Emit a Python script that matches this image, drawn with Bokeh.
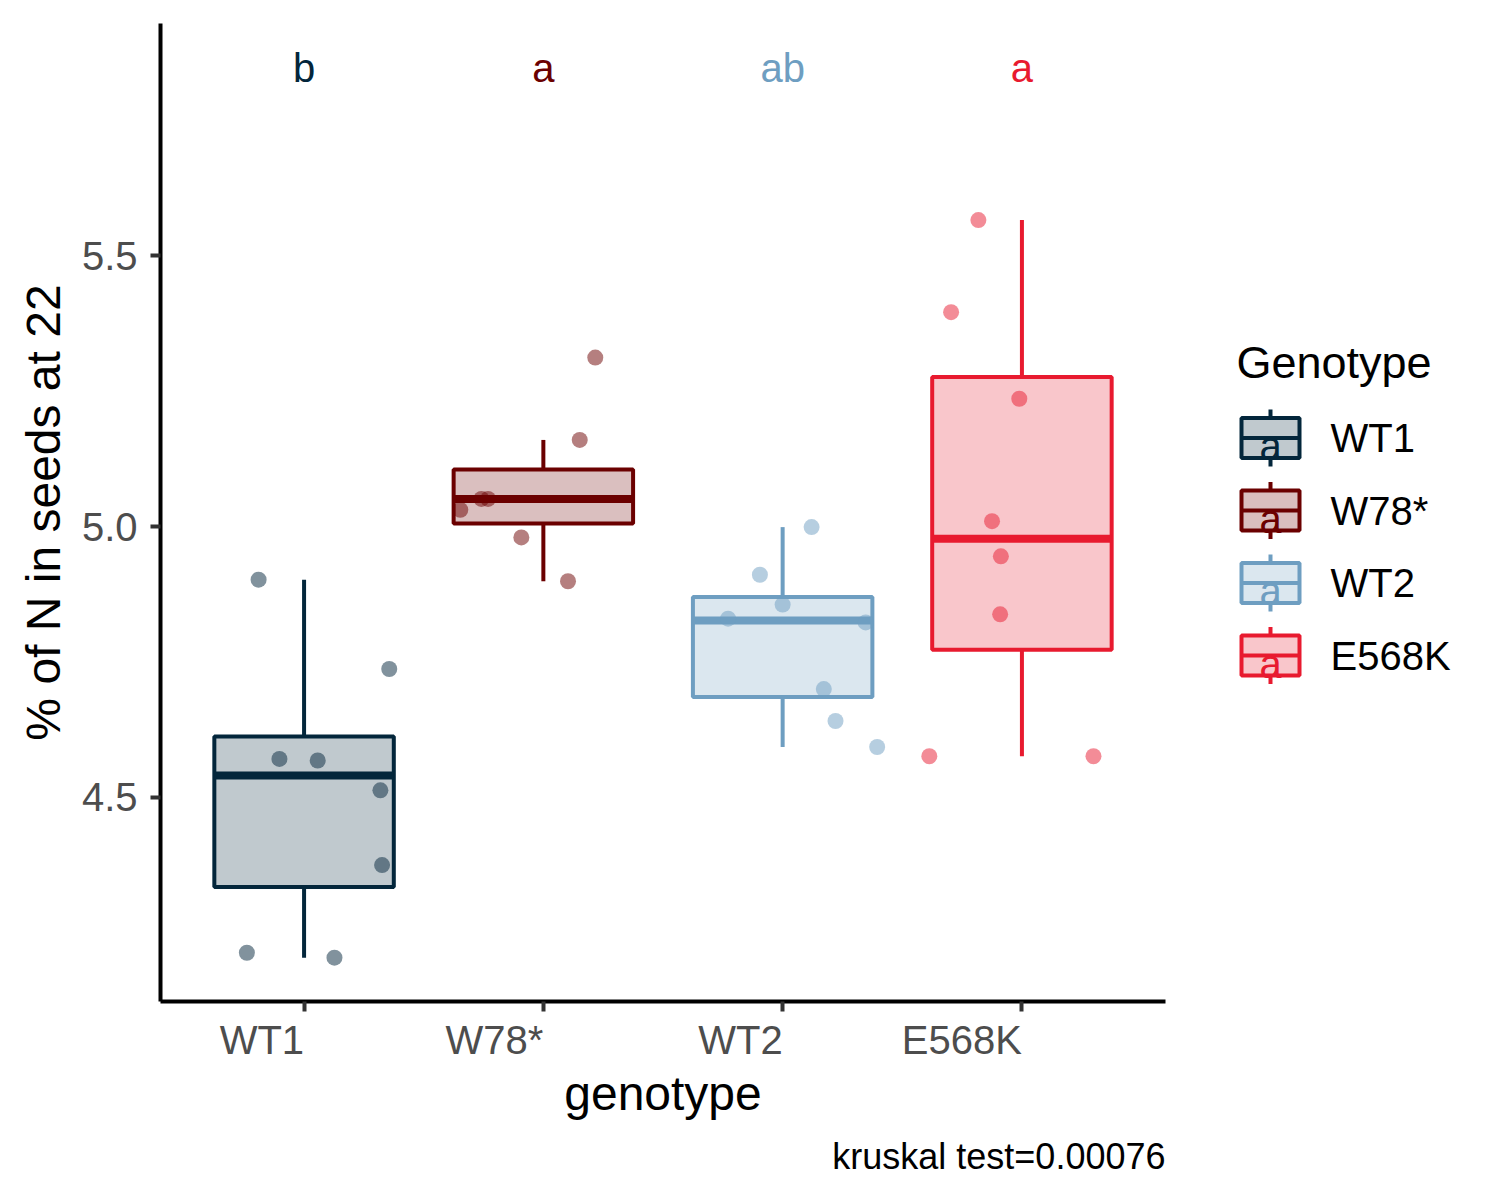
import numpy as np
from bokeh.plotting import figure
from bokeh.models import Range1d, FixedTicker, ColumnDataSource, Title, PrintfTickFormatter
from bokeh.layouts import row
from bokeh.embed import file_html
from bokeh.resources import INLINE
from bokeh.core.properties import value

# ---------------- data ----------------
genotypes = ["WT1", "W78*", "WT2", "E568K"]
colors = ["#03263B", "#6B0000", "#6E9EC1", "#E81A2F"]
letters = ["b", "a", "ab", "a"]
letter_y = 5.846

wt1_vals = [4.902, 4.737, 4.571, 4.568, 4.513, 4.375, 4.213, 4.204]
wt1_jit = [-0.19, 0.356, -0.103, 0.057, 0.319, 0.326, -0.239, 0.127]
w78_vals = [5.312, 5.160, 5.051, 5.051, 5.031, 4.980, 4.899]
w78_jit = [0.217, 0.152, -0.259, -0.231, -0.347, -0.092, 0.103]
wt2_vals = [4.999, 4.911, 4.856, 4.830, 4.823, 4.700, 4.641, 4.593]
wt2_jit = [0.121, -0.095, 0.0, -0.228, 0.347, 0.172, 0.221, 0.395]
e568k_vals = [5.566, 5.396, 5.236, 5.010, 4.945, 4.838, 4.576, 4.576]
e568k_jit = [-0.182, -0.296, -0.011, -0.125, -0.088, -0.091, -0.387, 0.299]

caption = "kruskal test=0.00076"
x_title = "genotype"
y_title = "% of N in seeds at 22"
legend_title = "Genotype"
y_ticks = [4.5, 5.0, 5.5]

groups_vals = [wt1_vals, w78_vals, wt2_vals, e568k_vals]
groups_jit = [wt1_jit, w78_jit, wt2_jit, e568k_jit]

FONT = "Liberation Sans"

FRAME_TOP, FRAME_H = 23, 978
FRAME_LEFT, FRAME_W = 160, 1005
BOTTOM = 183

# ---------------- main figure ----------------
p = figure(frame_width=FRAME_W, frame_height=FRAME_H,
           x_range=Range1d(0.4, 4.6), y_range=Range1d(4.123, 5.929),
           output_backend="svg", toolbar_location=None,
           min_border_left=FRAME_LEFT, min_border_right=35,
           min_border_top=FRAME_TOP, min_border_bottom=BOTTOM)
p.grid.visible = False
p.outline_line_color = None
p.background_fill_color = "white"
p.border_fill_color = "white"

# box statistics (ggplot style)
pos = np.arange(1, len(genotypes) + 1, dtype=float)
q1s, meds, q3s, lows, highs = [], [], [], [], []
for vals in groups_vals:
    a = np.array(vals)
    q1, med, q3 = np.percentile(a, [25, 50, 75])
    iqr = q3 - q1
    lo = a[a >= q1 - 1.5 * iqr].min()
    hi = a[a <= q3 + 1.5 * iqr].max()
    q1s.append(q1); meds.append(med); q3s.append(q3); lows.append(lo); highs.append(hi)

half_w = 0.375
box_src = ColumnDataSource(dict(
    left=pos - half_w, right=pos + half_w, bottom=q1s, top=q3s,
    x=pos, med=meds, lo=lows, hi=highs, color=colors,
))

p.segment(x0="x", y0="top", x1="x", y1="hi", source=box_src, line_color="color", line_width=4)
p.segment(x0="x", y0="bottom", x1="x", y1="lo", source=box_src, line_color="color", line_width=4)
p.quad(left="left", right="right", bottom="bottom", top="top", source=box_src,
       fill_color="color", fill_alpha=0.25, line_color="color", line_width=4)
p.segment(x0="left", y0="med", x1="right", y1="med", source=box_src,
          line_color="color", line_width=8)

# jittered points
px, py, pc = [], [], []
for i, (vals, jit) in enumerate(zip(groups_vals, groups_jit)):
    for v, j in zip(vals, jit):
        px.append(pos[i] + j)
        py.append(v)
        pc.append(colors[i])
p.scatter(x=px, y=py, size=16, fill_color=pc, fill_alpha=0.5, line_color=None)

# significance letters
p.text(x=pos, y=[letter_y] * len(pos), text=letters, text_color=colors,
       text_font=value(FONT), text_font_size="40px",
       text_align="center", text_baseline="alphabetic")

# axes
p.xaxis.ticker = FixedTicker(ticks=list(pos))
p.xaxis.major_label_overrides = {int(k): g for k, g in zip(pos, genotypes)}
p.xaxis.major_label_orientation = 0.0
p.yaxis.ticker = FixedTicker(ticks=y_ticks)
p.yaxis.formatter = PrintfTickFormatter(format="%.1f")
p.xaxis.axis_label = x_title
p.yaxis.axis_label = y_title

for ax in (p.xaxis[0], p.yaxis[0]):
    ax.axis_line_width = 4
    ax.axis_line_color = "black"
    ax.major_tick_line_width = 4
    ax.major_tick_line_color = "#333333"
    ax.major_tick_out = 10
    ax.major_tick_in = 0
    ax.minor_tick_line_color = None
    ax.major_label_text_font = FONT
    ax.major_label_text_font_size = "40px"
    ax.major_label_text_color = "#4D4D4D"
    ax.axis_label_text_font = FONT
    ax.axis_label_text_font_size = "48px"
    ax.axis_label_text_font_style = "normal"
    ax.axis_label_text_color = "black"

p.xaxis.major_label_standoff = 28
p.xaxis.axis_label_standoff = -20
p.yaxis.major_label_standoff = 13
p.yaxis.axis_label_standoff = 9

p.add_layout(Title(text=caption, align="right", text_font=FONT, text_font_size="36px",
                   text_font_style="normal", text_color="black", standoff=23), "below")

# ---------------- legend figure (coordinates in page pixels) ----------------
LEG_W = 284
leg = figure(frame_width=LEG_W, frame_height=FRAME_H,
             x_range=Range1d(1200, 1200 + LEG_W),
             y_range=Range1d(FRAME_TOP + FRAME_H, FRAME_TOP),
             output_backend="svg", toolbar_location=None,
             min_border_left=0, min_border_right=0,
             min_border_top=FRAME_TOP, min_border_bottom=BOTTOM,
             x_axis_location=None, y_axis_location=None)
leg.grid.visible = False
leg.outline_line_color = None
leg.background_fill_color = "white"
leg.border_fill_color = "white"

key_x = 1270
key_cy = np.array([437.5 + 72.5 * i for i in range(len(genotypes))])
kw, kh, wh = 29, 20, 28.5
n = len(genotypes)
leg_src = ColumnDataSource(dict(
    x=[key_x] * n, cy=key_cy, top=key_cy - kh, bottom=key_cy + kh,
    wt=key_cy - wh, wb=key_cy + wh, left=[key_x - kw] * n,
    right=[key_x + kw] * n, color=colors, label=genotypes,
    ay=key_cy + 8, lx=[1330] * n, a=["a"] * n,
))
leg.segment(x0="x", y0="wt", x1="x", y1="wb", source=leg_src, line_color="color", line_width=4)
leg.quad(left="left", right="right", top="top", bottom="bottom", source=leg_src,
         fill_color="white", line_color=None)
leg.quad(left="left", right="right", top="top", bottom="bottom", source=leg_src,
         fill_color="color", fill_alpha=0.25, line_color="color", line_width=4)
leg.segment(x0="left", y0="cy", x1="right", y1="cy", source=leg_src, line_color="color", line_width=4)
leg.text(x="x", y="ay", text="a", source=leg_src, text_color="color",
         text_font=value(FONT), text_font_size="40px", text_align="center",
         text_baseline="alphabetic")
leg.text(x="lx", y="cy", text="label", source=leg_src, text_color="black",
         text_font=value(FONT), text_font_size="40px", text_align="left",
         text_baseline="middle")
leg.text(x=[1236], y=[362], text=[legend_title], text_color="black",
         text_font=value(FONT), text_font_size="45px", text_align="left",
         text_baseline="alphabetic")

layout = row(p, leg)
open("out.html", "w").write(file_html(layout, INLINE))
